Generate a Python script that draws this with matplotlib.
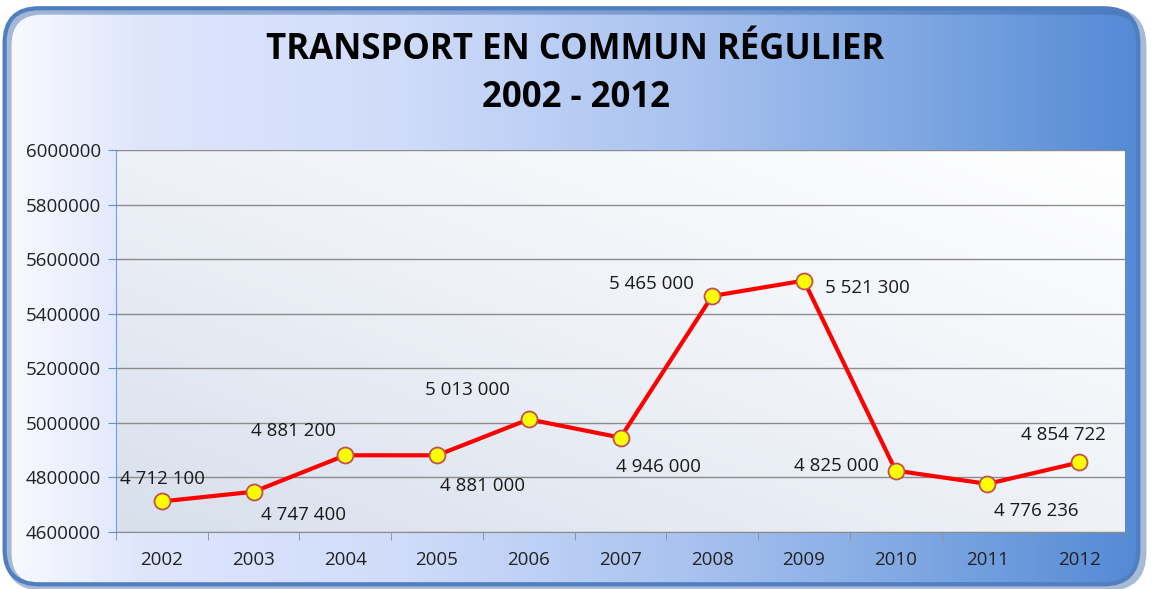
import matplotlib
matplotlib.use("Agg")
import matplotlib.pyplot as plt
import numpy as np
from matplotlib.colors import LinearSegmentedColormap
from matplotlib.patches import FancyBboxPatch

years = ['2002', '2003', '2004', '2005', '2006', '2007', '2008', '2009', '2010', '2011', '2012']
values = [4712100, 4747400, 4881200, 4881000, 5013000, 4946000, 5465000, 5521300, 4825000, 4776236, 4854722]
labels = ['4 712 100', '4 747 400', '4 881 200', '4 881 000', '5 013 000', '4 946 000',
          '5 465 000', '5 521 300', '4 825 000', '4 776 236', '4 854 722']
# label offsets in pixels (dx, dy) from the point
offsets = [(1, 22), (50, -23), (-52, 24), (45, -31), (-61, 29), (38, -29),
           (-61, 12), (63, -7), (-59, 5), (49, -27), (-16, 27)]

plt.rcParams['font.family'] = ['Open Sans', 'DejaVu Sans']

fig = plt.figure(figsize=(11.51, 5.89), dpi=100)
fig.patch.set_facecolor('white')

# background gradient inside a rounded frame
bg = fig.add_axes([0, 0, 1, 1], zorder=-10)
bg_cmap = LinearSegmentedColormap.from_list('bg', [
    (0.0, '#fafbff'), (0.12, '#dfe6fc'), (0.35, '#cfdcfa'),
    (0.6, '#a9c2ef'), (0.8, '#7ea7e2'), (1.0, '#5288d4')])
grad = np.linspace(0, 1, 512).reshape(1, -1)
im = bg.imshow(grad, cmap=bg_cmap, aspect='auto', extent=[0, 1, 0, 1])
bg.set_xlim(0, 1)
bg.set_ylim(0, 1)
bg.axis('off')
shadow = FancyBboxPatch((0.007, 0.003), 0.986, 0.978,
                        boxstyle='round,pad=0,rounding_size=0.03',
                        transform=bg.transAxes, fill=False,
                        edgecolor='#3d6aa8', linewidth=5, alpha=0.45, zorder=1,
                        mutation_aspect=1151 / 589)
bg.add_patch(shadow)
frame = FancyBboxPatch((0.004, 0.008), 0.985, 0.978,
                       boxstyle='round,pad=0,rounding_size=0.03',
                       transform=bg.transAxes, fill=False,
                       edgecolor='#4f7fc0', linewidth=3, mutation_aspect=1151 / 589, zorder=2)
bg.add_patch(frame)
im.set_clip_path(frame)

ax = fig.add_axes([0.1008, 0.0968, 0.8766, 0.6485])
x = np.arange(len(years))
ax.set_xlim(-0.5, len(years) - 0.5)
ax.set_ylim(4600000, 6000000)

# plot area gradient (bottom-left grey-blue to top-right white)
gx, gy = np.meshgrid(np.linspace(0, 1, 200), np.linspace(0, 1, 200))
gd = (gx + gy) / 2
pa_cmap = LinearSegmentedColormap.from_list('pa', ['#d8e0ec', '#eef1f7', '#ffffff'])
ax.imshow(gd, cmap=pa_cmap, aspect='auto', origin='lower',
          extent=[-0.5, len(years) - 0.5, 4600000, 6000000], zorder=0)

ax.set_yticks(np.arange(4600000, 6000001, 200000))
ax.set_yticklabels([str(v) for v in range(4600000, 6000001, 200000)], fontsize=13.5, color='#222222')
ax.yaxis.grid(True, color='#8c8c8c', linewidth=1)
ax.set_axisbelow(False)
ax.set_xticks(x)
ax.set_xticklabels(years, fontsize=13.5, color='#222222')
ax.set_xticks(np.arange(-0.5, len(years), 1), minor=True)
ax.tick_params(axis='x', which='major', length=0, pad=14)
ax.tick_params(axis='x', which='minor', length=6, color='#8c8c8c', direction='out')
ax.tick_params(axis='y', length=6, color='#5b8fe0', direction='out', pad=5)
for s in ['top', 'right']:
    ax.spines[s].set_visible(False)
ax.spines['left'].set_color('#6f9ee6')
ax.spines['bottom'].set_color('#8c8c8c')

ax.plot(x, values, color='#ff0000', linewidth=3, marker='o', markersize=11.5,
        markerfacecolor='#ffff00', markeredgecolor='#c0504d', markeredgewidth=1.3, zorder=5)

for xi, v, lab, (dx, dy) in zip(x, values, labels, offsets):
    ax.annotate(lab, (xi, v), xytext=(dx, dy), textcoords='offset pixels',
                ha='center', va='center', fontsize=13.5, color='#1a1a1a', zorder=6)

fig.text(0.5, 0.915, 'TRANSPORT EN COMMUN RÉGULIER', ha='center', va='center',
         fontsize=25, fontweight='bold', color='#000000')
fig.text(0.5, 0.833, '2002 - 2012', ha='center', va='center',
         fontsize=25, fontweight='bold', color='#000000')

fig.savefig('out.png', dpi=100)
